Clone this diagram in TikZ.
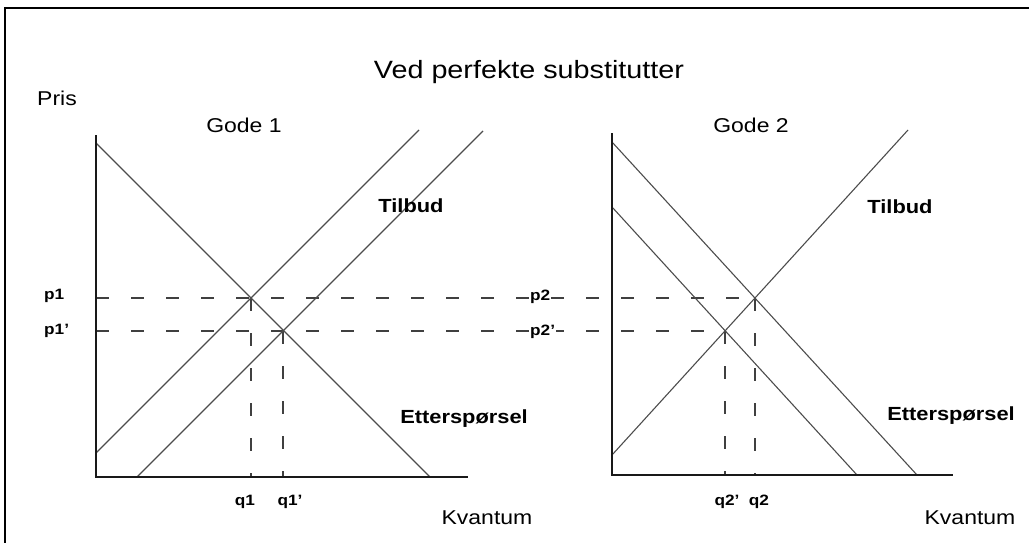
\documentclass[tikz,border=0pt]{standalone}
\usepackage{fontspec}
\setmainfont[FakeStretch=1.15]{Liberation Sans}
\begin{document}
\begin{tikzpicture}[x=1pt,y=-1pt,
  axis/.style={line width=2.4pt,black!90},
  curve/.style={line width=1.1pt,black!70},
  guide/.style={line width=1.4pt,black!75,dash pattern=on 13pt off 22pt},
  frameline/.style={line width=2pt,black},
  lab/.style={font=\fontsize{20}{24}\selectfont,inner sep=1pt},
  blab/.style={font=\bfseries\fontsize{19}{23}\selectfont,inner sep=1pt},
  plab/.style={font=\bfseries\fontsize{15}{18}\selectfont,inner sep=1pt},
  ttl/.style={font=\fontsize{25}{30}\selectfont,inner sep=1pt}]
\useasboundingbox (0,0) rectangle (1029,543);
% frame
\coordinate (fbl) at (5,545);
\coordinate (ftl) at (5,8);
\coordinate (ftr) at (1031,8);
\draw[frameline] (fbl) -- (ftl) -- (ftr);
% ---------- left chart ----------
\coordinate (O1) at (96,477);
\coordinate (Y1) at (96,135);
\coordinate (X1) at (468,477);
\coordinate (E1) at (251,298);
\coordinate (E1p) at (283,331);
\coordinate (D1a) at (96,143);
\coordinate (D1b) at (430,477);
\coordinate (S1a) at (96,453);
\coordinate (S1b) at (419,130);
\coordinate (S2a) at (137,477);
\coordinate (S2b) at (483,131);
\coordinate (P1) at (96,298);
\coordinate (P1p) at (96,331);
\coordinate (Q1) at (251,477);
\coordinate (Q1p) at (283,477);
% ---------- right chart ----------
\coordinate (O2) at (612,475);
\coordinate (Y2) at (612,133);
\coordinate (X2) at (953,475);
\coordinate (E2) at (755,298);
\coordinate (E2p) at (725,331);
\coordinate (D3a) at (612,142);
\coordinate (D3b) at (917,475);
\coordinate (D4a) at (612,207);
\coordinate (D4b) at (857,475);
\coordinate (S3a) at (612,455);
\coordinate (S3b) at (908,130);
\coordinate (Q2) at (755,475);
\coordinate (Q2p) at (725,475);
% guides
\draw[guide] (P1) -- (E2);
\draw[guide] (P1p) -- (E2p);
\draw[guide] (E1) -- (Q1);
\draw[guide] (E1p) -- (Q1p);
\draw[guide] (E2) -- (Q2);
\draw[guide] (E2p) -- (Q2p);
% curves
\draw[curve] (D1a) -- (D1b);
\draw[curve] (S1a) -- (S1b);
\draw[curve] (S2a) -- (S2b);
\draw[curve] (D3a) -- (D3b);
\draw[curve] (D4a) -- (D4b);
\draw[curve] (S3a) -- (S3b);
% axes
\draw[axis] (Y1) -- (O1) -- (X1);
\draw[axis] (Y2) -- (O2) -- (X2);
% labels
\node[ttl] (title) at (529,72) {Ved perfekte substitutter};
\node[lab] (pris) at (57,98) {Pris};
\node[lab] (gode1) at (244,125) {Gode 1};
\node[lab] (gode2) at (751,125) {Gode 2};
\node[blab] (til1) at (411,206) {Tilbud};
\node[blab] (til2) at (900,207) {Tilbud};
\node[blab] (ett1) at (464,419) {Etterspørsel};
\node[blab] (ett2) at (951,416) {Etterspørsel};
\node[plab,anchor=west] (p1) at (43,296) {p1};
\node[plab,anchor=west] (p1p) at (43,331) {p1'};
\node[plab,anchor=west,fill=white] (p2) at (529,297) {p2};
\node[plab,anchor=west,fill=white] (p2p) at (529,332) {p2'};
\node[plab] (q1) at (245,502) {q1};
\node[plab] (q1p) at (290,502) {q1'};
\node[plab] (q2p) at (727,502) {q2'};
\node[plab] (q2) at (759,502) {q2};
\node[lab] (kv1) at (487,518) {Kvantum};
\node[lab] (kv2) at (970,518) {Kvantum};
\end{tikzpicture}
\end{document}
